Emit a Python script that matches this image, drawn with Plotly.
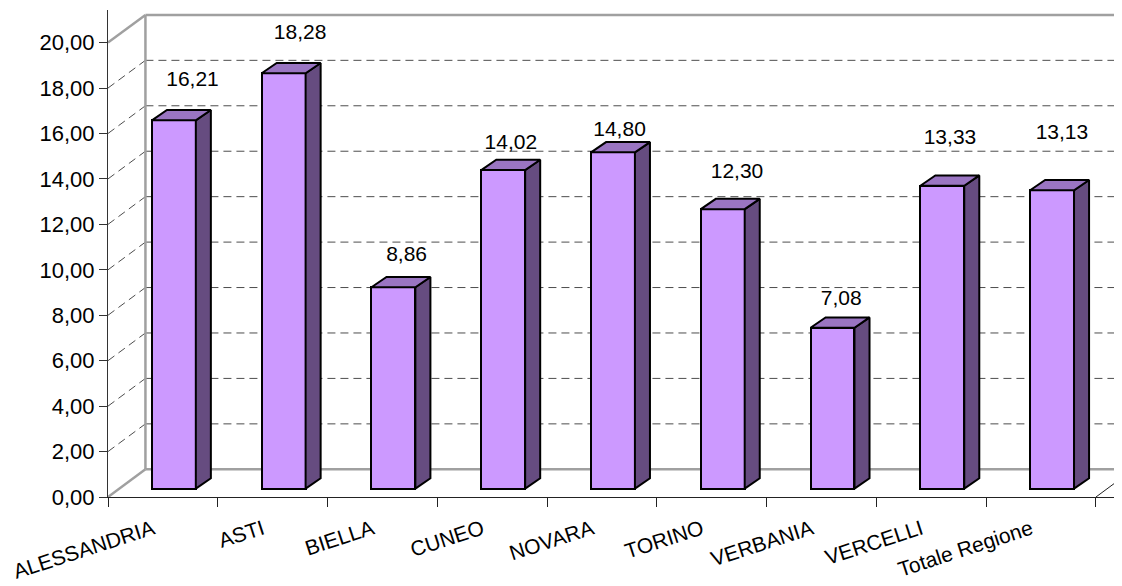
import plotly.graph_objects as go

categories = ["ALESSANDRIA", "ASTI", "BIELLA", "CUNEO", "NOVARA", "TORINO",
              "VERBANIA", "VERCELLI", "Totale Regione"]
values = [16.21, 18.28, 8.86, 14.02, 14.80, 12.30, 7.08, 13.33, 13.13]
value_labels = ["16,21", "18,28", "8,86", "14,02", "14,80", "12,30", "7,08", "13,33", "13,13"]
y_ticks = [0, 2, 4, 6, 8, 10, 12, 14, 16, 18, 20]
y_tick_labels = ["0,00", "2,00", "4,00", "6,00", "8,00", "10,00", "12,00", "14,00",
                 "16,00", "18,00", "20,00"]

# label placement (offset above each bar's value)
label_dy = [2.13, 2.13, 1.77, 1.55, 1.30, 1.99, 1.58, 2.46, 2.87]
label_dx = [0.27, 0.25, 0.22, 0.17, 0.16, 0.23, 0.18, 0.17, 0.19]

# 3D projection parameters (in data units)
DX, DY = 0.341, 1.219      # depth of floor / walls
FX, FY = 0.100, 0.370      # offset of the bar front face
BX, BY = 0.137, 0.453      # depth of each bar
BW = 0.40                  # bar width

FRONT = "#CC99FF"
SIDE = "#664C80"
TOP = "#9A75C2"
WALL = "#A0A0A0"
GRID = "#4D4D4D"
FONT = "Liberation Sans, Arial, sans-serif"

n = len(categories)
xs = list(range(n))
x_max = n - 0.5 + 0.237
y_top = 487 / 22.72

fig = go.Figure()

shapes = []
for v in y_ticks:
    solid = v in (0, 20)
    line = dict(color=WALL, width=2.5) if solid else dict(color=GRID, width=1, dash="8px,5px")
    shapes.append(dict(type="line", xref="x", yref="y", layer="below",
                       x0=-0.5 + DX, x1=x_max + 1, y0=v + DY, y1=v + DY, line=line))
    shapes.append(dict(type="line", xref="x", yref="y", layer="below",
                       x0=-0.5, x1=-0.5 + DX, y0=v, y1=v + DY, line=line))
shapes.append(dict(type="line", xref="x", yref="y", layer="below",
                   x0=-0.5 + DX, x1=-0.5 + DX, y0=DY, y1=20 + DY,
                   line=dict(color=WALL, width=2.5)))
shapes.append(dict(type="line", xref="x", yref="y", layer="below",
                   x0=n - 0.5, x1=n - 0.5 + DX, y0=0, y1=DY,
                   line=dict(color="#222222", width=1)))

fig.add_trace(go.Bar(
    x=[x + FX for x in xs], y=values, base=[FY] * n, width=BW,
    marker=dict(color=FRONT, line=dict(color="black", width=2)),
    hoverinfo="skip", showlegend=False))

for x, v in zip(xs, values):
    cx = x + FX
    top = v + FY
    fig.add_trace(go.Scatter(
        x=[cx + BW / 2, cx + BW / 2 + BX, cx + BW / 2 + BX, cx + BW / 2, cx + BW / 2],
        y=[FY, FY + BY, top + BY, top, FY],
        mode="lines", fill="toself", fillcolor=SIDE,
        line=dict(color="black", width=2), hoverinfo="skip", showlegend=False))
    fig.add_trace(go.Scatter(
        x=[cx - BW / 2, cx + BW / 2, cx + BW / 2 + BX, cx - BW / 2 + BX, cx - BW / 2],
        y=[top, top, top + BY, top + BY, top],
        mode="lines", fill="toself", fillcolor=TOP,
        line=dict(color="black", width=2), hoverinfo="skip", showlegend=False))

fig.add_trace(go.Scatter(
    x=[x + d for x, d in zip(xs, label_dx)],
    y=[v + d for v, d in zip(values, label_dy)],
    mode="text", text=value_labels,
    textfont=dict(family=FONT, size=21, color="black"),
    hoverinfo="skip", showlegend=False))

fig.update_layout(
    width=1114, height=578,
    margin=dict(l=100, r=0, t=2, b=89),
    paper_bgcolor="white", plot_bgcolor="white",
    shapes=shapes, bargap=0,
    font=dict(family=FONT, size=20, color="black"),
    xaxis=dict(range=[-0.5, x_max], tickmode="array", tickvals=xs, ticktext=categories,
               tickangle=-18, ticks="", showgrid=False, zeroline=False,
               showline=True, linecolor="#222222", linewidth=1,
               ticklabelstandoff=11, ticklabelshift=-10,
               tickfont=dict(family=FONT, size=21, color="black"),
               minor=dict(tickmode="array", tickvals=[i - 0.5 for i in range(n + 1)],
                          ticks="outside", ticklen=9, tickcolor="#222222", showgrid=False)),
    yaxis=dict(range=[0, y_top], tickmode="array", tickvals=y_ticks, ticktext=y_tick_labels,
               ticks="outside", ticklen=8, tickcolor="#333333", showgrid=False,
               zeroline=False, showline=True, linecolor="#333333", linewidth=1,
               tickfont=dict(family=FONT, size=22, color="black")),
)

fig.write_html("out.html")
